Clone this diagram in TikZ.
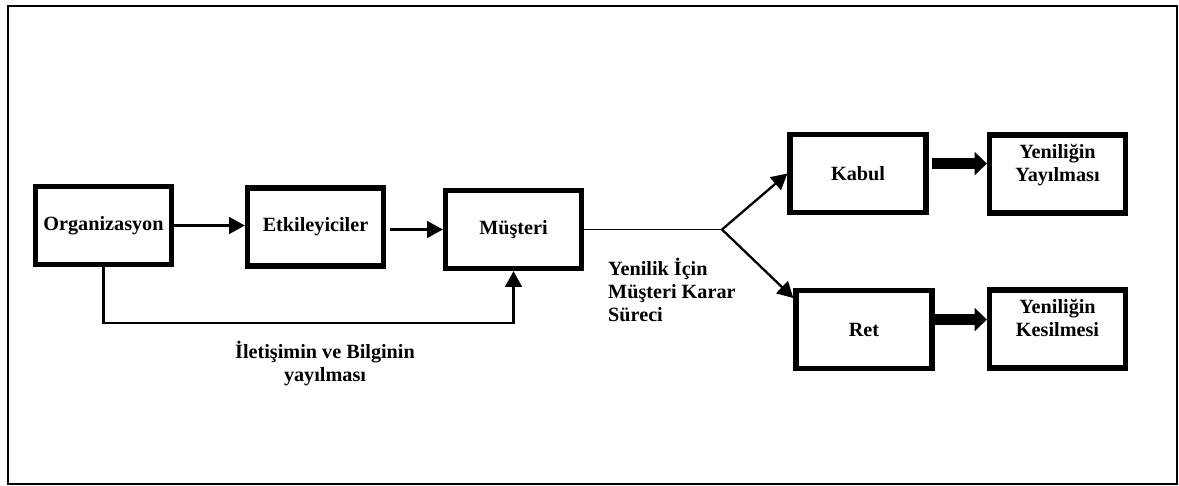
\documentclass[tikz,border=0pt]{standalone}
\usepackage{fontspec}
\setmainfont{Liberation Serif}
\usetikzlibrary{arrows.meta}
\tikzset{
  yazi/.style={font=\bfseries\fontsize{11.5}{13}\selectfont, align=center},
  kutu/.style={yazi, draw, line width=3pt, inner sep=0pt,
    minimum width=2.72cm, minimum height=1.56cm},
  ok/.style={line width=1.3pt, -{Triangle[length=9pt,width=9.5pt]}},
  kalinok/.style={line width=6pt, -{Triangle[length=7pt,width=13pt]}}
}
\begin{document}
\begin{tikzpicture}[x=0.02cm,y=-0.02cm]
\useasboundingbox (0,0) rectangle (1179,486);
\draw[line width=1.1pt] (8,6) rectangle (1177,484);
\node[kutu] (org) at (103.5,225.5) {Organizasyon};
\node[kutu] (etk) at (315.5,227) {Etkileyiciler};
\node[kutu] (mus) at (513.5,229.5) {Müşteri};
\node[kutu] (kabul) at (858,173.5) {Kabul};
\node[kutu] (ret) at (864,329.5) {Ret};
\node[kutu] (yy) at (1057.5,174) {Yeniliğin\\Yayılması\\\mbox{}};
\node[kutu] (yk) at (1057.5,329) {Yeniliğin\\Kesilmesi\\\mbox{}};
\coordinate (kav) at (722,229.5);
\draw[ok] (org.east) -- (org.east -| etk.west);
\draw[ok, shorten <=2pt] (etk.east |- mus.west) -- (mus.west);
\draw[ok] (org.south) -- ++(0,56) -| (mus.south);
\draw[line width=0.8pt] (mus.east) -- (kav);
\draw[ok] (kav) -- (kabul.west);
\draw[ok] (kav) -- (ret.156);
\draw[kalinok, shorten <=2pt] (kabul.8) -- (kabul.8 -| yy.west);
\draw[kalinok] (ret.8) -- (ret.8 -| yk.west);
\node[yazi] (iletisim) at (325,363.5) {İletişimin ve Bilginin\\yayılması};
\node[yazi, align=left, anchor=west] (karar) at (602,290) {Yenilik İçin\\Müşteri Karar\\Süreci};
\end{tikzpicture}
\end{document}
